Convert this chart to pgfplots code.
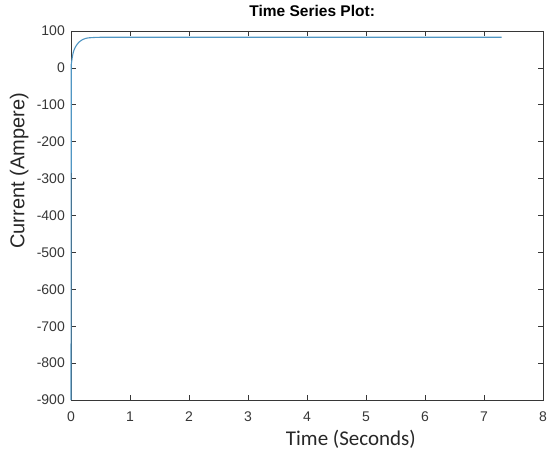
\documentclass[border=0pt]{standalone}
\usepackage{fontspec}
\setmainfont{Liberation Sans}
\newfontfamily\calibri{Carlito}
\usepackage{pgfplots}
\pgfplotsset{compat=1.18}
\pgfplotsset{
  layers/linetop/.define layer set={
    axis background,axis grid,axis ticks,axis lines,axis tick labels,
    pre main,main,axis descriptions,axis foreground
  }{/pgfplots/layers/standard},
}
\definecolor{mblue}{RGB}{80,150,195}
\definecolor{axgray}{RGB}{55,55,55}
\begin{document}
\begin{tikzpicture}
\path (0,0) rectangle (547pt,451pt);
\begin{axis}[
  set layers=linetop,
  clip=false,
  at={(71pt,51pt)}, anchor=south west,
  scale only axis, width=472pt, height=369pt,
  xmin=0, xmax=8, ymin=-900, ymax=100,
  xtick={0,1,2,3,4,5,6,7,8},
  xticklabels={0,1,2,3,4,5,6,7,8},
  ytick={-900,-800,-700,-600,-500,-400,-300,-200,-100,0,100},
  yticklabels={-900,-800,-700,-600,-500,-400,-300,-200,-100,0,100},
  tick align=inside,
  major tick length=5pt,
  axis line style={axgray, line width=0.6pt},
  every tick/.style={axgray, line width=0.6pt},
  tick label style={font=\fontsize{14}{15}\selectfont, text=axgray, inner sep=0pt},
  xticklabel style={yshift=-12pt},
  yticklabel style={xshift=-6pt},
  title={\textbf{Time Series Plot:}},
  title style={font=\fontsize{15.5}{16}\selectfont, inner sep=0pt, at={(axis description cs:0.511,1.022)}, anchor=base},
  xlabel={\calibri Time (Seconds)},
  xlabel style={font=\fontsize{21}{22}\selectfont, inner sep=0pt, at={(axis description cs:0.593,-0.122)}, anchor=base, text=axgray!70!black},
  ylabel={Current (Ampere)},
  ylabel style={font=\fontsize{20}{21}\selectfont, inner sep=0pt, at={(axis description cs:-0.11,0.621)}, anchor=center, rotate=0, text=axgray!70!black},
]
\addplot[mblue, line width=1.1pt] coordinates {
(0,-900) (0.005,10) (0.012,18) (0.025,32) (0.04,43) (0.06,52) (0.08,58)
(0.1,63) (0.13,69) (0.16,73) (0.2,77) (0.25,80) (0.3,81.5) (0.4,82.5)
(0.5,83) (0.7,83) (1,83) (7.3,83)
};
\end{axis}
\end{tikzpicture}
\end{document}
